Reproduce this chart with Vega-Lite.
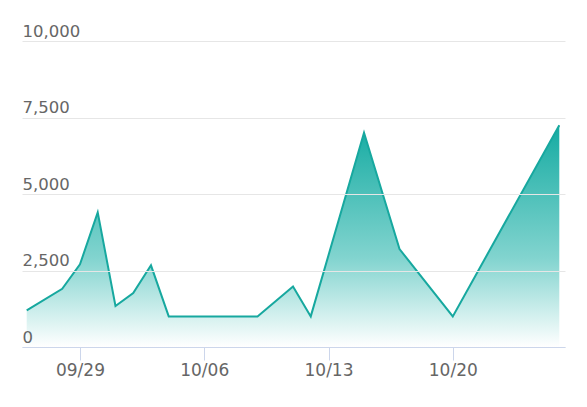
{
  "$schema": "https://vega.github.io/schema/vega-lite/v6.json",
  "width": 543,
  "height": 306,
  "autosize": "none",
  "padding": {"left": 22, "top": 41, "right": 22, "bottom": 60},
  "background": "#ffffff",
  "config": {"view": {"stroke": null}},
  "data": {
    "values": [
      {"date": "2024-09-26", "value": 1200},
      {"date": "2024-09-28", "value": 1900},
      {"date": "2024-09-29", "value": 2700},
      {"date": "2024-09-30", "value": 4400},
      {"date": "2024-10-01", "value": 1340},
      {"date": "2024-10-02", "value": 1760},
      {"date": "2024-10-03", "value": 2670},
      {"date": "2024-10-04", "value": 1000},
      {"date": "2024-10-09", "value": 1000},
      {"date": "2024-10-11", "value": 1980},
      {"date": "2024-10-12", "value": 1000},
      {"date": "2024-10-15", "value": 7000},
      {"date": "2024-10-17", "value": 3200},
      {"date": "2024-10-20", "value": 1000},
      {"date": "2024-10-26", "value": 7250}
    ]
  },
  "mark": {
    "type": "area",
    "opacity": 1,
    "line": {"color": "#17a89f", "strokeWidth": 2},
    "color": {
      "gradient": "linear",
      "x1": 1, "x2": 1, "y1": 0, "y2": 1,
      "stops": [
        {"offset": 0, "color": "#15aba2"},
        {"offset": 0.6, "color": "#82d4cf"},
        {"offset": 1, "color": "#ffffff"}
      ]
    }
  },
  "encoding": {
    "x": {
      "field": "date",
      "type": "temporal",
      "scale": {
        "type": "utc",
        "domain": [
          {"year": 2024, "month": 9, "date": 25, "hours": 17, "minutes": 38, "utc": true},
          {"year": 2024, "month": 10, "date": 26, "hours": 7, "minutes": 42, "utc": true}
        ]
      },
      "axis": {
        "title": null,
        "values": [
          {"year": 2024, "month": 9, "date": 29, "utc": true},
          {"year": 2024, "month": 10, "date": 6, "utc": true},
          {"year": 2024, "month": 10, "date": 13, "utc": true},
          {"year": 2024, "month": 10, "date": 20, "utc": true}
        ],
        "format": "%m/%d",
        "grid": false,
        "zindex": 1,
        "domainColor": "#ccd6eb",
        "domainWidth": 1,
        "tickColor": "#ccd6eb",
        "tickSize": 13,
        "labelFont": "DejaVu Sans",
        "labelFontSize": 17,
        "labelColor": "#666666",
        "labelPadding": 2,
        "labelFlush": false
      }
    },
    "y": {
      "field": "value",
      "type": "quantitative",
      "scale": {"domain": [0, 10000], "nice": false},
      "axis": {
        "title": null,
        "values": [0, 2500, 5000, 7500, 10000],
        "format": ",.0f",
        "domain": false,
        "ticks": false,
        "grid": true,
        "zindex": 1,
        "gridColor": "#e6e6e6",
        "gridWidth": 1,
        "labelAlign": "left",
        "labelBaseline": "alphabetic",
        "labelOffset": -5,
        "labelPadding": 0,
        "labelFont": "DejaVu Sans",
        "labelFontSize": 16.5,
        "labelColor": "#666666"
      }
    }
  }
}
